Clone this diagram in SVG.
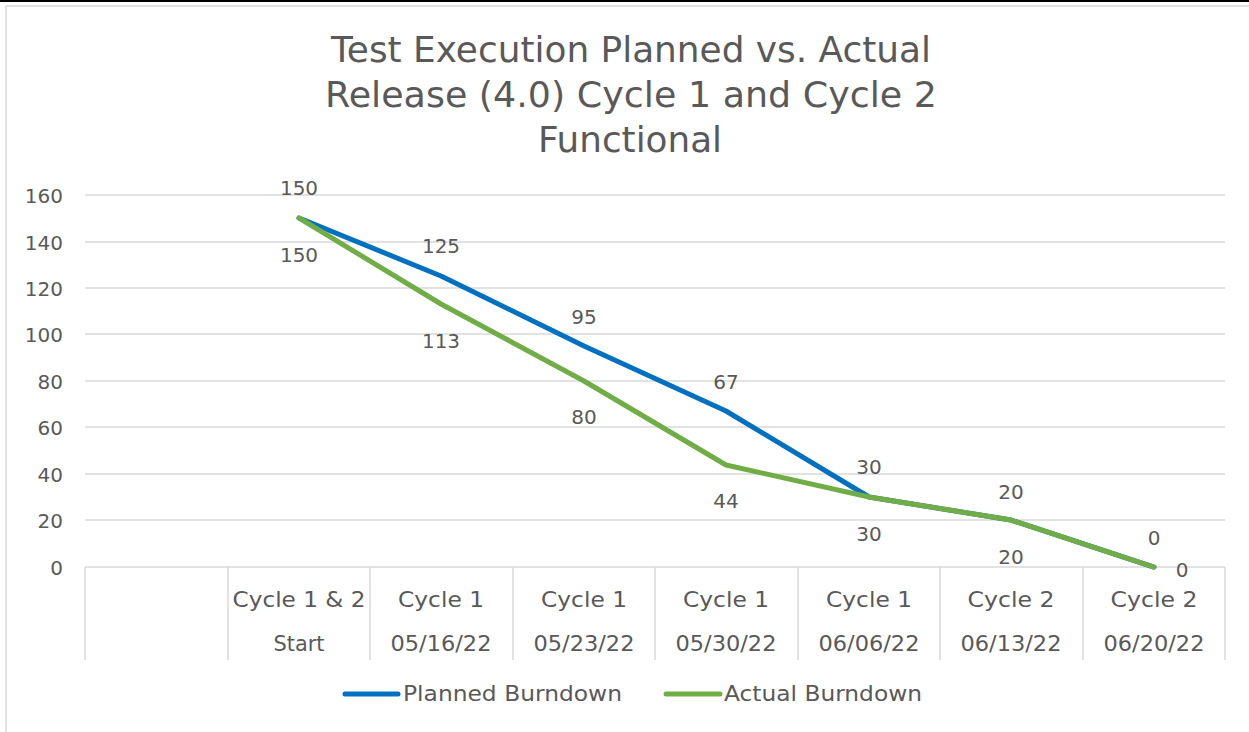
<svg xmlns="http://www.w3.org/2000/svg" width="1249" height="732" viewBox="0 0 1249 732">
<style>
text{font-family:"DejaVu Sans","Liberation Sans",sans-serif;fill:#595959}
.t{font-size:35px;text-anchor:middle}
.ax{font-size:20px;text-anchor:end}
.lb{font-size:20px;text-anchor:middle}
.cat{font-size:21px;text-anchor:middle}
.lg{font-size:21px}
.grid{stroke:#D9D9D9;stroke-width:1.5}
.series{fill:none;stroke-width:5;stroke-linejoin:round;stroke-linecap:round}
</style>
<rect width="1249" height="732" fill="#fff"/>
<line x1="0" y1="1" x2="1249" y2="1" stroke="#000" stroke-width="2"/>
<rect x="6" y="6" width="1260" height="740" fill="none" stroke="#D9D9D9" stroke-width="1.5"/>
<g id="title">
<text class="t" x="631" y="62" textLength="600" lengthAdjust="spacingAndGlyphs">Test Execution Planned vs. Actual</text>
<text class="t" x="631" y="107" textLength="612" lengthAdjust="spacingAndGlyphs">Release (4.0) Cycle 1 and Cycle 2</text>
<text class="t" x="630" y="152" textLength="184" lengthAdjust="spacingAndGlyphs">Functional</text>
</g>
<g id="gridlines">
<line class="grid" x1="85" y1="195" x2="1225" y2="195"/>
<line class="grid" x1="85" y1="242" x2="1225" y2="242"/>
<line class="grid" x1="85" y1="288" x2="1225" y2="288"/>
<line class="grid" x1="85" y1="334" x2="1225" y2="334"/>
<line class="grid" x1="85" y1="381" x2="1225" y2="381"/>
<line class="grid" x1="85" y1="427" x2="1225" y2="427"/>
<line class="grid" x1="85" y1="474" x2="1225" y2="474"/>
<line class="grid" x1="85" y1="520" x2="1225" y2="520"/>
<line class="grid" x1="85" y1="567" x2="1225" y2="567"/>
<line class="grid" x1="85" y1="567" x2="85" y2="660"/>
<line class="grid" x1="228" y1="567" x2="228" y2="660"/>
<line class="grid" x1="370" y1="567" x2="370" y2="660"/>
<line class="grid" x1="513" y1="567" x2="513" y2="660"/>
<line class="grid" x1="655" y1="567" x2="655" y2="660"/>
<line class="grid" x1="798" y1="567" x2="798" y2="660"/>
<line class="grid" x1="940" y1="567" x2="940" y2="660"/>
<line class="grid" x1="1083" y1="567" x2="1083" y2="660"/>
<line class="grid" x1="1225" y1="567" x2="1225" y2="660"/>
</g>
<g id="y-axis">
<text class="ax" x="63" y="203">160</text>
<text class="ax" x="63" y="250">140</text>
<text class="ax" x="63" y="296">120</text>
<text class="ax" x="63" y="342">100</text>
<text class="ax" x="63" y="389">80</text>
<text class="ax" x="63" y="435">60</text>
<text class="ax" x="63" y="482">40</text>
<text class="ax" x="63" y="528">20</text>
<text class="ax" x="63" y="575">0</text>
</g>
<g id="x-axis">
<text class="cat" x="299" y="607" textLength="133" lengthAdjust="spacingAndGlyphs">Cycle 1 &amp; 2</text><text class="cat" x="299" y="651" textLength="51" lengthAdjust="spacingAndGlyphs">Start</text>
<text class="cat" x="441" y="607" textLength="86" lengthAdjust="spacingAndGlyphs">Cycle 1</text><text class="cat" x="441" y="651" textLength="101" lengthAdjust="spacingAndGlyphs">05/16/22</text>
<text class="cat" x="584" y="607" textLength="86" lengthAdjust="spacingAndGlyphs">Cycle 1</text><text class="cat" x="584" y="651" textLength="101" lengthAdjust="spacingAndGlyphs">05/23/22</text>
<text class="cat" x="726" y="607" textLength="86" lengthAdjust="spacingAndGlyphs">Cycle 1</text><text class="cat" x="726" y="651" textLength="101" lengthAdjust="spacingAndGlyphs">05/30/22</text>
<text class="cat" x="869" y="607" textLength="86" lengthAdjust="spacingAndGlyphs">Cycle 1</text><text class="cat" x="869" y="651" textLength="101" lengthAdjust="spacingAndGlyphs">06/06/22</text>
<text class="cat" x="1011" y="607" textLength="87" lengthAdjust="spacingAndGlyphs">Cycle 2</text><text class="cat" x="1011" y="651" textLength="101" lengthAdjust="spacingAndGlyphs">06/13/22</text>
<text class="cat" x="1154" y="607" textLength="87" lengthAdjust="spacingAndGlyphs">Cycle 2</text><text class="cat" x="1154" y="651" textLength="101" lengthAdjust="spacingAndGlyphs">06/20/22</text>
</g>
<g id="connectors">
<polyline id="planned" class="series" stroke="#0070C0" points="299,218 441,276 584,346 726,411 869,497 1011,520 1154,567"/>
<polyline id="actual" class="series" stroke="#70AD47" points="299,218 441,304 584,381 726,465 869,497 1011,520 1154,567"/>
</g>
<g id="planned-labels">
<text class="lb" x="299" y="195">150</text>
<text class="lb" x="441" y="253">125</text>
<text class="lb" x="584" y="324">95</text>
<text class="lb" x="726" y="389">67</text>
<text class="lb" x="869" y="474">30</text>
<text class="lb" x="1011" y="499">20</text>
<text class="lb" x="1154" y="545">0</text>
</g>
<g id="actual-labels">
<text class="lb" x="299" y="262">150</text>
<text class="lb" x="441" y="348">113</text>
<text class="lb" x="584" y="424">80</text>
<text class="lb" x="726" y="508">44</text>
<text class="lb" x="869" y="541">30</text>
<text class="lb" x="1011" y="564">20</text>
<text class="lb" x="1182" y="577">0</text>
</g>
<g id="legend">
<line x1="345" y1="694" x2="398" y2="694" stroke="#0070C0" stroke-width="5" stroke-linecap="round"/>
<text class="lg" x="403" y="701" textLength="219" lengthAdjust="spacingAndGlyphs">Planned Burndown</text>
<line x1="666" y1="694" x2="720" y2="694" stroke="#70AD47" stroke-width="5" stroke-linecap="round"/>
<text class="lg" x="724" y="701" textLength="198" lengthAdjust="spacingAndGlyphs">Actual Burndown</text>
</g>
</svg>
